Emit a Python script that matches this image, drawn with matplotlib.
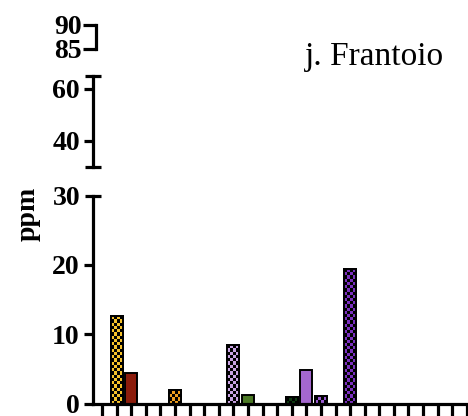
import numpy as np
import matplotlib.pyplot as plt
from matplotlib.colors import ListedColormap

plt.rcParams['font.family'] = ['Liberation Serif', 'DejaVu Serif']

# ppm per compound slot along the x axis (nan = not detected)
ppm = [np.nan, 12.65, 4.35, np.nan, np.nan, 1.95, np.nan, np.nan, np.nan, 8.5,
       1.25, np.nan, np.nan, 1.0, 4.85, 1.15, np.nan, 19.4, np.nan, np.nan,
       np.nan, np.nan, np.nan, np.nan, np.nan, np.nan]
bar_colors = {1: '#f6c22b', 2: '#8c1c0c', 5: '#f0a020', 9: '#c9a3e3', 10: '#4c7a26',
              13: '#0d3a10', 14: '#a467cf', 15: '#9a5ad2', 17: '#7a30be'}
checkered = [1, 5, 9, 13, 15, 17]
title = 'j. Frantoio'

W, H = 468, 416
fig = plt.figure(figsize=(W / 100, H / 100), dpi=100)

def px_axes(left, right, top, bottom):
    return fig.add_axes([left / W, 1 - bottom / H, (right - left) / W, (bottom - top) / H])

ax_lo = px_axes(93, 480, 195.5, 403.5)
ax_mid = px_axes(93, 480, 76, 167)
ax_hi = px_axes(96, 480, 25, 49)

lw = 2.3
label_font = dict(fontsize=20, fontweight='bold')
for ax in (ax_lo, ax_mid, ax_hi):
    ax.patch.set_visible(False)
    for s in ('top', 'right'):
        ax.spines[s].set_visible(False)
    ax.spines['left'].set_linewidth(lw)
    ax.tick_params(axis='y', which='major', direction='out', length=6.5, width=lw, pad=3)
    ax.tick_params(axis='y', which='minor', direction='inout', length=12, width=lw, pad=3)
    ax.set_xlim(-0.62, 25.9)

for ax in (ax_mid, ax_hi):
    ax.spines['bottom'].set_visible(False)
    ax.set_xticks([])

# bottom segment 0-30 with the bars
x = np.arange(len(ppm))
vals = np.array(ppm, dtype=float)
mask = ~np.isnan(vals)
cols = [bar_colors[i] for i in x[mask]]
bars = ax_lo.bar(x[mask], vals[mask], width=0.82, color=cols,
                 edgecolor='black', linewidth=1.4, zorder=2)

# checkerboard fill for the patterned compounds
px_per_ppm = 208 / 30
for rect, idx in zip(bars, x[mask]):
    if idx not in checkered:
        continue
    h = rect.get_height()
    nrows = max(2, int(round(h * px_per_ppm / 3.2)))
    ncols = 4
    grid = (np.add.outer(np.arange(nrows), np.arange(ncols)) % 2)
    x0 = rect.get_x()
    im = ax_lo.imshow(grid, extent=(x0, x0 + rect.get_width(), 0, h), origin='lower',
                      aspect='auto', interpolation='nearest',
                      cmap=ListedColormap([bar_colors[idx], 'black']), zorder=2.5)
    im.set_clip_path(rect)
    edge = plt.Rectangle((x0, 0), rect.get_width(), h, fill=False,
                         edgecolor='black', linewidth=1.4, zorder=3)
    ax_lo.add_patch(edge)

ax_lo.set_xlim(-0.62, 25.9)
ax_lo.set_ylim(0, 30)
ax_lo.set_yticks([0, 10, 20])
ax_lo.set_yticks([30], minor=True)
ax_lo.set_yticklabels(['0', '10', '20'], **label_font)
ax_lo.set_yticklabels(['30'], minor=True, **label_font)
ax_lo.spines['bottom'].set_linewidth(lw)
ax_lo.set_xticks(x)
ax_lo.set_xticklabels([])
ax_lo.tick_params(axis='x', direction='out', length=10, width=lw)

# middle segment 30-65
ax_mid.set_ylim(30, 65)
ax_mid.set_yticks([40, 60])
ax_mid.set_yticklabels(['40', '60'], **label_font)
ax_mid.set_yticks([30, 65], minor=True)
ax_mid.set_yticklabels(['', ''], minor=True)

# top segment 85-90
ax_hi.set_ylim(85, 90)
ax_hi.set_yticks([85, 90])
ax_hi.set_yticklabels(['85', '90'], **label_font)
ax_hi.tick_params(axis='y', which='major', length=9.5, pad=1)

fig.text(28 / W, 1 - 214 / H, 'ppm', rotation=90, ha='center', va='center',
         fontsize=20, fontweight='bold')
fig.text(374 / W, 1 - 57 / H, title, ha='center', va='center', fontsize=24)

fig.savefig('out.png', dpi=100)
